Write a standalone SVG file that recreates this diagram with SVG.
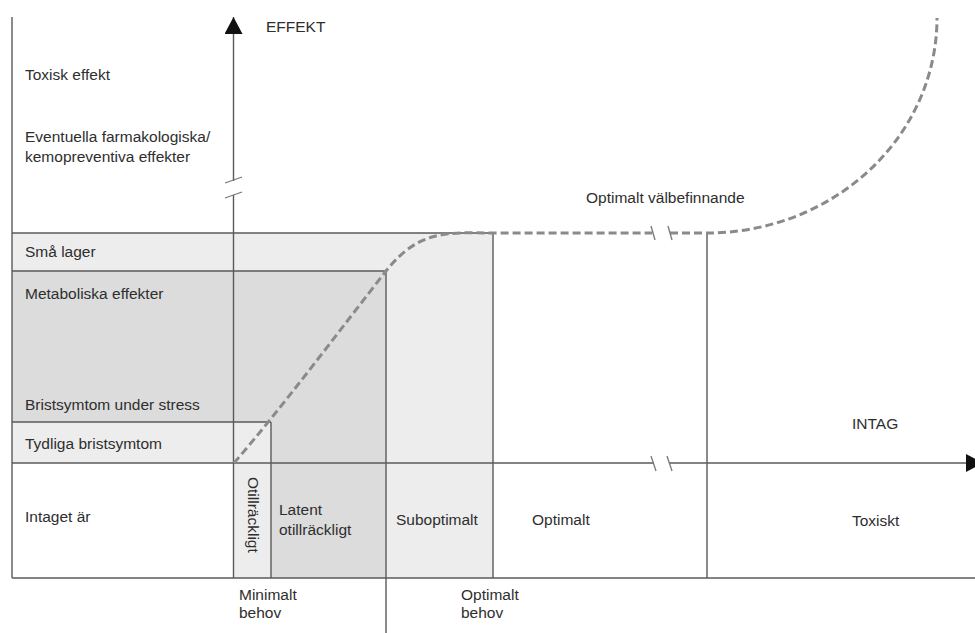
<svg xmlns="http://www.w3.org/2000/svg" width="975" height="633" viewBox="0 0 975 633">
<style>
text{font-family:"Liberation Sans","DejaVu Sans",sans-serif;font-size:15.5px;fill:#2e2e2e}
.ln{stroke:#5a5a5a;stroke-width:1.4;fill:none}
.dash{stroke:#8a8a8a;stroke-width:3;fill:none;stroke-dasharray:8 4}
.brk{stroke:#777;stroke-width:1.3;fill:none}
.light{fill:#ededed}
.dark{fill:#dcdcdc}
</style>
<defs>
<marker id="arrow" markerUnits="userSpaceOnUse" markerWidth="18" markerHeight="18" refX="17" refY="9" orient="auto">
<path d="M0,0 L17,9 L0,18 Z" fill="#111"/>
</marker>
</defs>
<rect width="975" height="633" fill="#fff"/>
<g id="regions">
<rect class="light" x="12" y="233" width="481" height="38"/>
<rect class="light" x="386" y="271" width="107" height="307"/>
<rect class="light" x="12" y="422" width="259" height="41"/>
<rect class="light" x="234" y="463" width="37" height="115"/>
<rect class="dark" x="12" y="271" width="374" height="151"/>
<rect class="dark" x="271" y="422" width="115" height="156"/>
</g>
<g id="grid">
<line class="ln" x1="12" y1="17" x2="12" y2="578"/>
<line class="ln" x1="12" y1="578" x2="975" y2="578"/>
<line class="ln" x1="12" y1="233" x2="493" y2="233"/>
<line class="ln" x1="12" y1="271" x2="386" y2="271"/>
<line class="ln" x1="12" y1="422" x2="271" y2="422"/>
<line class="ln" x1="271" y1="422" x2="271" y2="578"/>
<line class="ln" x1="386" y1="271" x2="386" y2="633"/>
<line class="ln" x1="493" y1="233" x2="493" y2="578"/>
<line class="ln" x1="707" y1="233" x2="707" y2="578"/>
</g>
<g id="connectors">
<line class="ln" x1="233.5" y1="578" x2="233.5" y2="195"/>
<line class="ln" x1="233.5" y1="181" x2="233.5" y2="17" marker-end="url(#arrow)"/>
<line class="brk" x1="225" y1="183" x2="242" y2="177"/>
<line class="brk" x1="225" y1="198" x2="242" y2="192"/>
<line class="ln" x1="12" y1="463" x2="654" y2="463"/>
<line class="ln" x1="669" y1="463" x2="983" y2="463" marker-end="url(#arrow)"/>
<line class="brk" x1="651" y1="456" x2="656" y2="471"/>
<line class="brk" x1="667" y1="456" x2="672" y2="471"/>
<path class="dash" d="M234,463 C280,410 340,330 386,271 C420,228 450,233 493,233 L652,233"/>
<path class="dash" d="M670,233 L707,233 A230,215 0 0 0 937,18"/>
<line class="brk" x1="651" y1="226" x2="655" y2="240"/>
<line class="brk" x1="668" y1="226" x2="672" y2="240"/>
</g>
<g id="label-effekt"><text x="266" y="32">EFFEKT</text></g>
<g id="label-intag"><text x="852" y="429">INTAG</text></g>
<g id="label-toxisk-effekt"><text x="25" y="80">Toxisk effekt</text></g>
<g id="label-farmakologiska"><text x="25" y="142">Eventuella farmakologiska/</text><text x="25" y="162">kemopreventiva effekter</text></g>
<g id="label-optimalt-valbefinnande"><text x="586" y="203">Optimalt välbefinnande</text></g>
<g id="label-sma-lager"><text x="25" y="257">Små lager</text></g>
<g id="label-metaboliska"><text x="25" y="299">Metaboliska effekter</text></g>
<g id="label-bristsymtom-stress"><text x="25" y="410">Bristsymtom under stress</text></g>
<g id="label-tydliga"><text x="25" y="449">Tydliga bristsymtom</text></g>
<g id="label-intaget-ar"><text x="25" y="522">Intaget är</text></g>
<g id="label-otillrackligt"><text transform="translate(248,477) rotate(90)">Otillräckligt</text></g>
<g id="label-latent"><text x="279" y="515">Latent</text><text x="279" y="535">otillräckligt</text></g>
<g id="label-suboptimalt"><text x="396" y="525">Suboptimalt</text></g>
<g id="label-optimalt"><text x="532" y="525">Optimalt</text></g>
<g id="label-toxiskt"><text x="852" y="526">Toxiskt</text></g>
<g id="label-minimalt-behov"><text x="239" y="600">Minimalt</text><text x="239" y="618">behov</text></g>
<g id="label-optimalt-behov"><text x="461" y="600">Optimalt</text><text x="461" y="618">behov</text></g>
</svg>
